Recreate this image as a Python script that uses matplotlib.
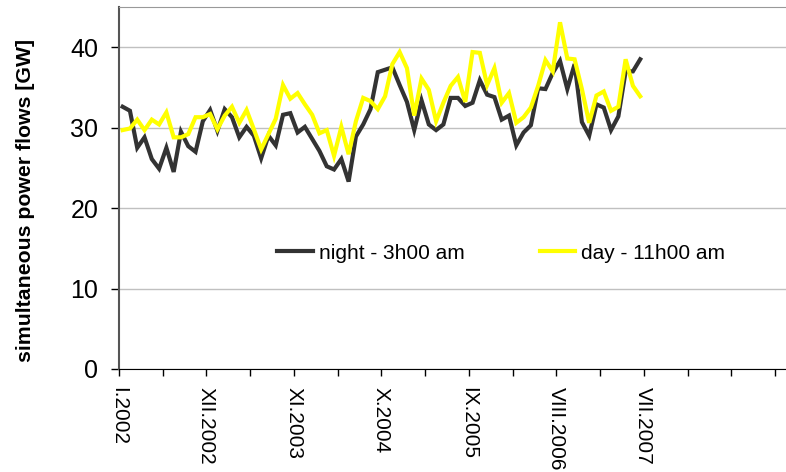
import numpy as np
import matplotlib
matplotlib.use("Agg")
import matplotlib.pyplot as plt

plt.rcParams["font.family"] = ["Liberation Sans", "DejaVu Sans"]

# Data (one value per category)
night = [32.6, 32.1, 27.5, 28.8, 26.1, 24.9, 27.5, 24.5, 29.5, 27.7,
         27.0, 30.8, 32.2, 29.6, 32.3, 31.3, 28.8, 30.1, 29.0, 26.2,
         29.0, 27.8, 31.6, 31.8, 29.4, 30.1, 28.6, 27.1, 25.2, 24.8,
         26.1, 23.3, 28.9, 30.4, 32.3, 36.9, 37.2, 37.5, 35.3, 33.2,
         29.7, 33.4, 30.4, 29.7, 30.4, 33.7, 33.7, 32.7, 33.1, 35.9,
         34.1, 33.8, 31.0, 31.5, 27.8, 29.4, 30.3, 34.9, 34.8, 36.8,
         38.3, 34.8, 37.9, 30.7, 29.0, 32.9, 32.5, 29.7, 31.4, 37.0,
         37.0, 38.5]
day = [29.7, 29.9, 31.0, 29.7, 31.0, 30.4, 31.9, 28.8, 28.8, 29.2,
       31.3, 31.3, 31.7, 29.8, 31.5, 32.6, 30.6, 32.2, 29.8, 27.3,
       29.2, 31.1, 35.3, 33.6, 34.3, 32.9, 31.6, 29.3, 29.7, 26.5,
       30.1, 26.7, 30.8, 33.7, 33.3, 32.3, 33.9, 37.9, 39.4, 37.4,
       31.5, 36.1, 34.7, 30.8, 33.1, 35.2, 36.3, 33.2, 39.4, 39.3,
       35.3, 37.4, 33.1, 34.3, 30.6, 31.3, 32.5, 35.2, 38.4, 37.0,
       43.1, 38.6, 38.5, 34.8, 30.6, 34.0, 34.5, 32.1, 32.6, 38.5,
       35.2, 33.9]
tick_labels = ["I.2002", "XII.2002", "XI.2003", "X.2004", "IX.2005",
               "VIII.2006", "VII.2007"]
label_step = 12   # categories between labels
tick_step = 6     # categories between tick marks
n_cats = 90

# categories are plotted between tick marks (centre of each slot)
x = np.arange(len(night)) + 0.5

fig = plt.figure(figsize=(7.86, 4.72), dpi=100)
ax = fig.add_axes([119 / 786, 1 - 369 / 472, 1 - 119 / 786, 362 / 472])

ax.plot(x, night, color="#333333", lw=3, solid_joinstyle="miter",
        label="night - 3h00 am")
ax.plot(x, day, color="#ffff00", lw=3, solid_joinstyle="miter",
        label="day - 11h00 am")

ax.set_ylim(0, 45)
ax.set_xlim(0, 91.5)
ax.set_yticks([0, 10, 20, 30, 40])
ax.yaxis.grid(True, color="#c0c0c0", lw=1)
ax.set_axisbelow(True)

ticks = np.arange(0, n_cats + 1, tick_step)
labels = []
for t in ticks:
    k = t // label_step
    if t % label_step == 0 and k < len(tick_labels):
        labels.append(tick_labels[k])
    else:
        labels.append("")
ax.set_xticks(ticks)
ax.set_xticklabels(labels, rotation=270, fontsize=15, va="top", ha="center")
ax.tick_params(axis="x", length=5, width=1, color="black", pad=8)
ax.tick_params(axis="y", length=6, width=1, labelsize=18, pad=9)

ax.spines["right"].set_visible(False)
ax.spines["top"].set_color("#999999")
ax.spines["left"].set_color("#555555")
ax.spines["left"].set_linewidth(1.5)
ax.spines["bottom"].set_color("black")

fig.text(26 / 786, 1 - 200 / 472, "simultaneous power flows [GW]",
         rotation=90, ha="center", va="center", fontsize=15.3, fontweight="bold")

ax.legend(loc="center", bbox_to_anchor=(0.573, 0.32), ncol=2, frameon=False,
          fontsize=15, handlelength=1.7, handletextpad=0.3, columnspacing=3.6)

fig.savefig("out.png", dpi=100)
